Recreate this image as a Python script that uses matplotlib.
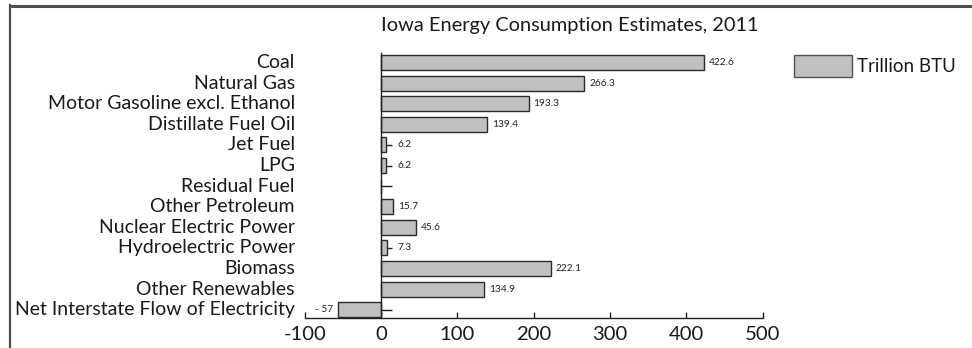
import matplotlib
matplotlib.use("Agg")
import matplotlib.pyplot as plt
from matplotlib.patches import Patch
from matplotlib.lines import Line2D

plt.rcParams['font.family'] = ['Lato', 'DejaVu Sans']

# Data (trillion BTU)
categories = [
    "Coal", "Natural Gas", "Motor Gasoline excl. Ethanol", "Distillate Fuel Oil",
    "Jet Fuel", "LPG", "Residual Fuel", "Other Petroleum", "Nuclear Electric Power",
    "Hydroelectric Power", "Biomass", "Other Renewables",
    "Net Interstate Flow of Electricity",
]
values = [422.6, 266.3, 193.3, 139.4, 6.2, 6.2, 0.0, 15.7, 45.6, 7.3, 222.1, 134.9, -57.0]
value_labels = ["422.6", "266.3", "193.3", "139.4", "6.2", "6.2", "", "15.7", "45.6",
                "7.3", "222.1", "134.9", "- 57"]
x_ticks = [-100, 0, 100, 200, 300, 400, 500]
x_tick_labels = ["-100", "0", "100", "200", "300", "400", "500"]
series_name = "Trillion BTU"
title = "Iowa Energy Consumption Estimates, 2011"

W, H = 972, 348
fig = plt.figure(figsize=(W / 100, H / 100), dpi=100)

# outer frame (top and left edges visible)
fig.add_artist(Line2D([9.5 / W, 9.5 / W], [0, 1 - 5 / H], transform=fig.transFigure,
                      color="#505050", lw=1.6))
fig.add_artist(Line2D([9.5 / W, 1], [1 - 5.5 / H, 1 - 5.5 / H], transform=fig.transFigure,
                      color="#505050", lw=2.2))

ax = fig.add_axes([304.7 / W, 30 / H, 458 / W, 264.7 / H])
ypos = list(range(len(categories)))
bar_fc = "#c0c0c0"
bar_ec = "#2a2a2a"
ax.barh(ypos, values, height=0.73, color=bar_fc, edgecolor=bar_ec, linewidth=1.0, zorder=2)

ax.set_xlim(-100, 500)
ax.set_ylim(len(categories) - 1 + 0.4, -0.45)
ax.set_axisbelow(True)

for s in ("top", "right"):
    ax.spines[s].set_visible(False)
ax.spines["left"].set_position(("data", 0))
for s in ("left", "bottom"):
    ax.spines[s].set_color("#222222")
    ax.spines[s].set_linewidth(1.0)

ax.set_xticks(x_ticks)
ax.set_xticklabels(x_tick_labels)
ax.tick_params(axis="x", direction="in", length=4.5, width=1.0, color="#222222",
               labelsize=14.6, pad=5.5, labelcolor="#1a1a1a")

ax.set_yticks(ypos)
ax.set_yticklabels(categories)
ax.tick_params(axis="y", direction="in", length=7.6, width=1.0, color="#222222",
               labelsize=14, pad=62, labelcolor="#1a1a1a")
for lab in ax.get_yticklabels():
    lab.set_verticalalignment("center")

# value labels beside each bar
tick_clear = 15.0
for y, v, t in zip(ypos, values, value_labels):
    if not t:
        continue
    if v >= 0:
        ax.annotate(t, (max(v, tick_clear), y), xytext=(3.5, 0), textcoords="offset points",
                    ha="left", va="center", fontsize=7.3, color="#222222")
    else:
        ax.annotate(t, (v, y), xytext=(-3.5, 0), textcoords="offset points",
                    ha="right", va="center", fontsize=7.3, color="#222222")

fig.text(570 / W, 1 - 31 / H, title, ha="center", va="baseline", fontsize=14.4,
         color="#1a1a1a")

handle = Patch(facecolor=bar_fc, edgecolor="#505050", linewidth=1.0)
fig.legend([handle], [series_name], loc="center left",
           bbox_to_anchor=(794 / W, 1 - 66 / H), frameon=False, fontsize=13.5,
           handlelength=58 / 18.75, handleheight=27 / 18.75, handletextpad=0.25,
           borderpad=0, borderaxespad=0, labelcolor="#1a1a1a")

fig.savefig("out.png", dpi=100)
